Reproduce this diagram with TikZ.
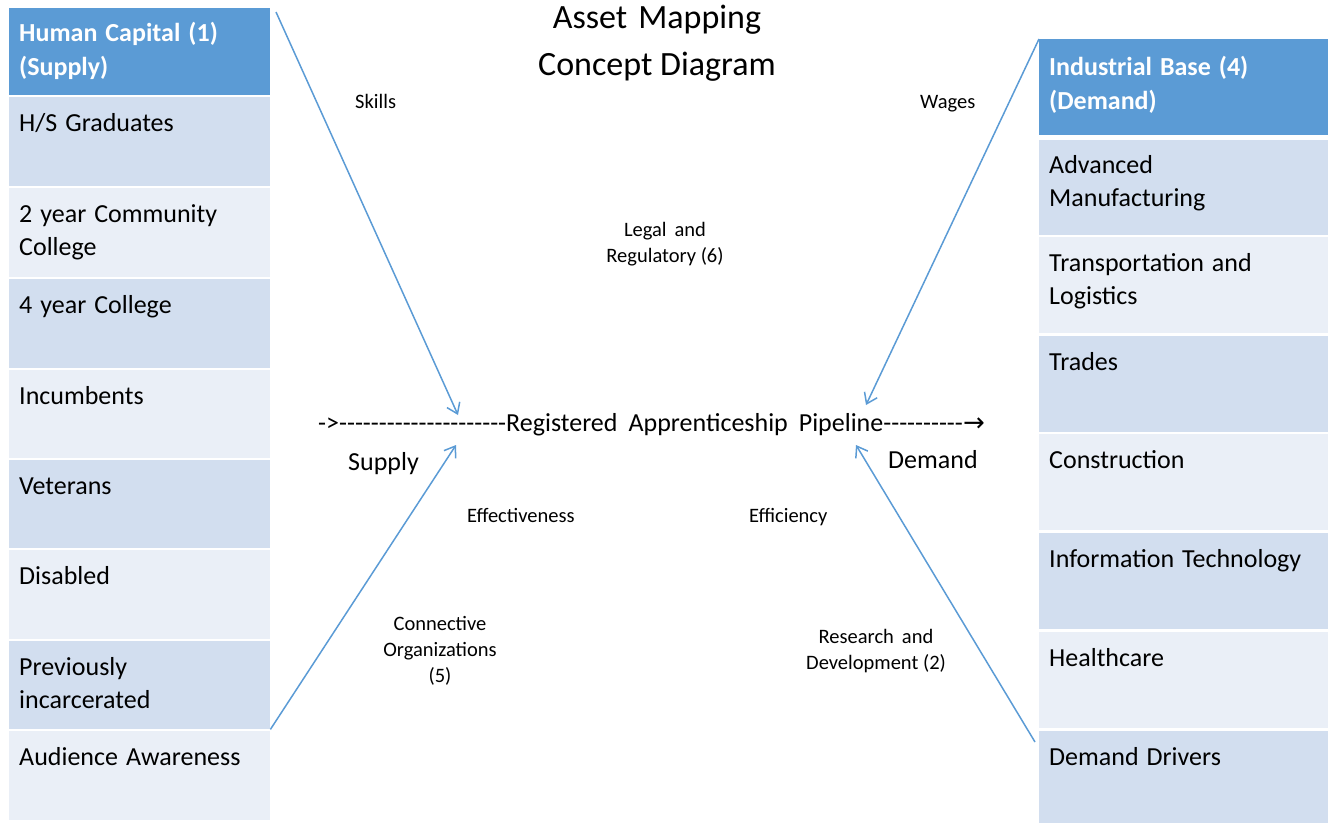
\documentclass[tikz,border=0pt]{standalone}
\usepackage{fontspec}
\setmainfont{Carlito}
\newfontfamily\dashfont{Carlito}[Ligatures=TeXOff]
\newfontfamily\symfont{DejaVu Sans}
\usetikzlibrary{arrows.meta}
\definecolor{hdr}{HTML}{5B9BD5}
\definecolor{rowD}{HTML}{D2DEEF}
\definecolor{rowL}{HTML}{EAEFF7}
\definecolor{lnk}{HTML}{5B9BD5}
\newcommand{\celltxt}[4]{\parbox[c][#1pt][t]{#2pt}{\raggedright\spaceskip=8pt plus 2pt\rule{0pt}{#3pt}#4}}
\begin{document}
\begin{tikzpicture}[x=1pt,y=-1pt,
 cell/.style={anchor=north west, inner xsep=10pt, inner ysep=0pt, font=\fontsize{26}{33}\selectfont},
 hcell/.style={cell, fill=hdr, text=white, font=\fontsize{26}{34}\selectfont\bfseries},
 dcell/.style={cell, fill=rowD},
 lcell/.style={cell, fill=rowL},
 lbl/.style={inner sep=0pt, align=center, font=\fontsize{20.5}{26}\selectfont},
 big/.style={inner sep=0pt, font=\fontsize{26}{30}\selectfont},
 link/.style={draw=lnk, line width=1.5pt, -{Straight Barb[length=10pt,width=14pt]}}]
\useasboundingbox (0,0) rectangle (1335,823);
% left column
\node[hcell] (L0) at (9,8)   {\celltxt{87}{241}{33.5}{Human Capital (1)\\(Supply)}};
\node[dcell] (L1) at (9,97)  {\celltxt{89}{241}{34}{H/S Graduates}};
\node[lcell] (L2) at (9,188) {\celltxt{89}{241}{34}{2 year Community\\College}};
\node[dcell] (L3) at (9,279) {\celltxt{89}{241}{34}{4 year College}};
\node[lcell] (L4) at (9,370) {\celltxt{88}{241}{34}{Incumbents}};
\node[dcell] (L5) at (9,460) {\celltxt{88}{241}{34}{Veterans}};
\node[lcell] (L6) at (9,550) {\celltxt{89}{241}{34}{Disabled}};
\node[dcell] (L7) at (9,641) {\celltxt{88}{241}{34}{Previously\\incarcerated}};
\node[lcell] (L8) at (9,731) {\celltxt{89}{241}{34}{Audience Awareness}};
% right column
\node[hcell] (R0) at (1039,39)  {\celltxt{96}{269}{36}{Industrial Base (4)\\(Demand)}};
\node[dcell] (R1) at (1039,140) {\celltxt{95}{269}{33.5}{Advanced\\Manufacturing}};
\node[lcell] (R2) at (1039,237) {\celltxt{96}{269}{34}{Transportation and\\Logistics}};
\node[dcell] (R3) at (1039,336) {\celltxt{96}{269}{34.5}{Trades}};
\node[lcell] (R4) at (1039,434) {\celltxt{96}{269}{34.5}{Construction}};
\node[dcell] (R5) at (1039,533) {\celltxt{96}{269}{34.5}{Information Technology}};
\node[lcell] (R6) at (1039,632) {\celltxt{96}{269}{34.5}{Healthcare}};
\node[dcell] (R7) at (1039,731) {\celltxt{92}{269}{34.5}{Demand Drivers}};
% title
\node[inner sep=0pt, align=center, font=\fontsize{34}{47}\selectfont] (title) at (657,43) {\spaceskip=11pt Asset Mapping\\Concept Diagram};
% centre line
\node[big, anchor=base west] (pipe) at (318,431) {{\dashfont\spaceskip=11pt ->---------------------Registered Apprenticeship Pipeline----------}{\symfont →}};
\node[big, anchor=base west] (supply) at (348,470) {Supply};
\node[big, anchor=base west] (demand) at (888,468) {Demand};
% labels
\node[lbl, anchor=west] (skills) at (355,101) {Skills};
\node[lbl, anchor=west] (wages) at (920,104) {Wages};
\node[lbl] (legal) at (665,244) {\spaceskip=8pt Legal and\\Regulatory (6)};
\node[lbl, anchor=west] (effect) at (467,515) {Effectiveness};
\node[lbl, anchor=west] (effic) at (749,517) {Efficiency};
\node[lbl] (connect) at (440,651) {Connective\\Organizations\\(5)};
\node[lbl] (research) at (876,651) {\spaceskip=8pt Research and\\Development (2)};
% arrow ends
\coordinate (sA) at (276,12);
\coordinate (eA) at (458,415);
\coordinate (eB) at (456,445);
\coordinate (eC) at (866,405);
\coordinate (sD) at (1035,742);
\coordinate (eD) at (856,445);
\draw[link] (sA) -- (eA);
\draw[link] (L7.south east) -- (eB);
\draw[link] (R0.north west) -- (eC);
\draw[link] (sD) -- (eD);
\end{tikzpicture}
\end{document}
